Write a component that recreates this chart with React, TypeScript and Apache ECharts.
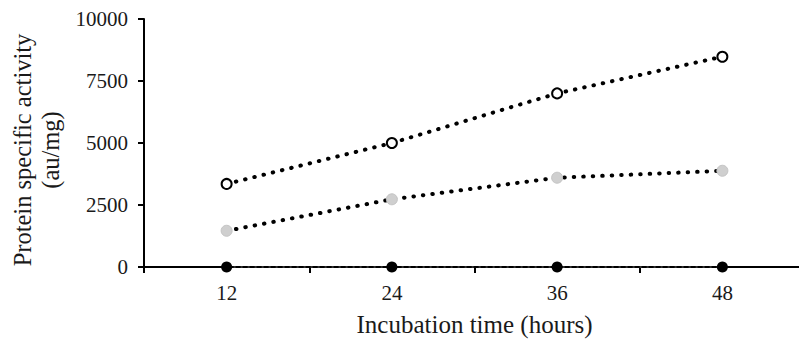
import React, { useEffect, useRef } from "react";
import * as echarts from "echarts";

const categories = ["12", "24", "36", "48"];
const openSeries = [3350, 5000, 7000, 8480];
const graySeries = [1460, 2730, 3600, 3880];
const blackSeries = [0, 0, 0, 0];
const yTicks = { min: 0, max: 10000, interval: 2500 };

const FONT = "'Liberation Serif', 'Times New Roman', serif";

export default function App() {
  const ref = useRef<HTMLDivElement>(null);
  useEffect(() => {
    if (!ref.current) return;
    const chart = echarts.init(ref.current, undefined, { renderer: "svg" });
    const dotted = { color: "#000", width: 4, type: [0.5, 9] as any, cap: "round" as any };
    chart.setOption({
      animation: false,
      backgroundColor: "#fff",
      grid: { left: 144, right: -6, top: 19, bottom: 74, containLabel: false, outerBoundsMode: "none" },
      xAxis: {
        type: "category",
        data: categories,
        boundaryGap: true,
        name: "Incubation time (hours)",
        nameLocation: "middle",
        nameGap: 45,
        nameTextStyle: { fontFamily: FONT, fontSize: 25, color: "#1a1a1a" },
        axisLine: { show: true, lineStyle: { color: "#000", width: 2 } },
        axisTick: { show: true, inside: false, length: 6, alignWithLabel: false, lineStyle: { color: "#000", width: 2 } },
        axisLabel: { fontFamily: FONT, fontSize: 21, color: "#1a1a1a", margin: 15 },
        splitLine: { show: false },
      },
      yAxis: {
        type: "value",
        min: yTicks.min,
        max: yTicks.max,
        interval: yTicks.interval,
        name: "Protein specific activity\n(au/mg)",
        nameLocation: "middle",
        nameRotate: 90,
        nameGap: 73,
        nameTextStyle: { fontFamily: FONT, fontSize: 24.5, color: "#1a1a1a", lineHeight: 28, padding: [0, 14, 0, 0] },
        axisLine: { show: true, lineStyle: { color: "#000", width: 2 } },
        axisTick: { show: true, inside: false, length: 6, lineStyle: { color: "#000", width: 2 } },
        axisLabel: {
          fontFamily: FONT,
          fontSize: 21,
          color: "#1a1a1a",
          margin: 16,
          formatter: (v: number) => String(v),
        },
        splitLine: { show: false },
      },
      series: [
        {
          type: "line",
          data: blackSeries,
          symbol: "circle",
          symbolSize: 11,
          itemStyle: { color: "#000", borderColor: "#000", borderWidth: 0 },
          lineStyle: { color: "#333", width: 2, type: [2, 5] as any },
          z: 5,
          clip: false,
        },
        {
          type: "line",
          data: graySeries,
          symbol: "circle",
          symbolSize: 11,
          itemStyle: { color: "#cfcfcf", borderColor: "#c4c4c4", borderWidth: 1 },
          lineStyle: dotted,
          z: 4,
        },
        {
          type: "line",
          data: openSeries,
          symbol: "circle",
          symbolSize: 10,
          itemStyle: { color: "#fff", borderColor: "#000", borderWidth: 2 },
          lineStyle: dotted,
          z: 4,
        },
      ],
    });
    return () => chart.dispose();
  }, []);
  return <div ref={ref} style={{ position: "fixed", left: 0, top: 0, width: 799, height: 341 }} />;
}
